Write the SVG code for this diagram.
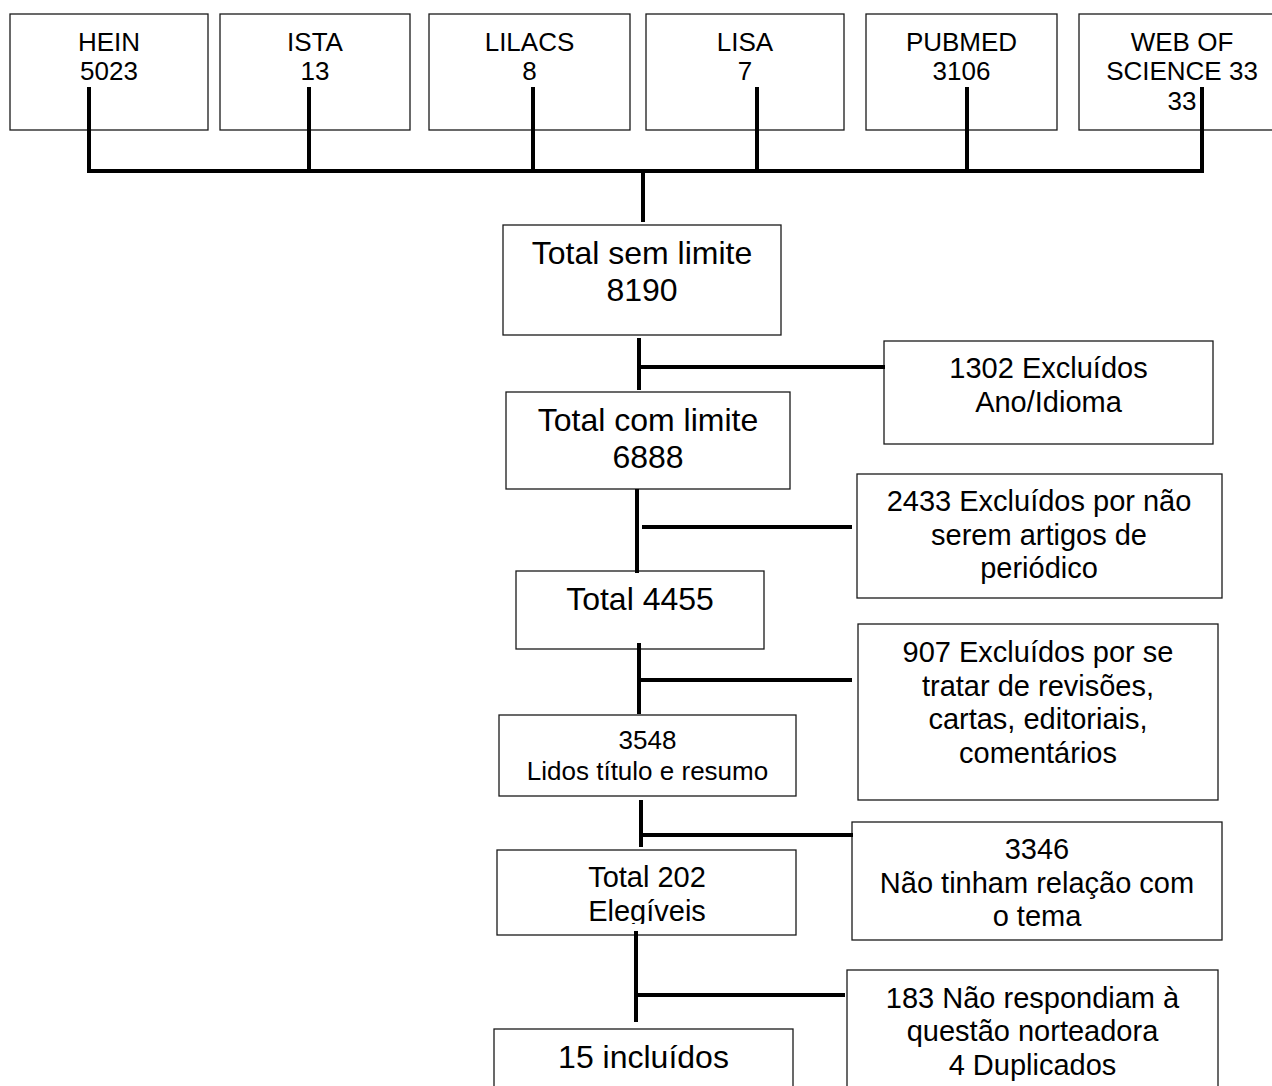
<svg xmlns="http://www.w3.org/2000/svg" width="1272" height="1086" viewBox="0 0 1272 1086">
<style>
.box{fill:#fff;stroke:#1a1a1a;stroke-width:1.3}
text{font-family:"Liberation Sans",Arial,sans-serif;fill:#000;text-anchor:middle}
.t26{font-size:26px}
.t29{font-size:29px}
.t31{font-size:32px}
.conn path{fill:none;stroke:#000;stroke-width:4;stroke-linejoin:miter}
</style>
<defs>
<clipPath id="clipEleg"><rect x="497" y="850" width="300" height="74"/></clipPath>
</defs>
<rect width="1272" height="1086" fill="#fff"/>

<g id="hein"><rect class="box" x="10" y="14" width="198" height="116"/><text class="t26" x="109" y="51">HEIN</text><text class="t26" x="109" y="80">5023</text></g>
<g id="ista"><rect class="box" x="220" y="14" width="190" height="116"/><text class="t26" x="315" y="51">ISTA</text><text class="t26" x="315" y="80">13</text></g>
<g id="lilacs"><rect class="box" x="429" y="14" width="201" height="116"/><text class="t26" x="529.5" y="51">LILACS</text><text class="t26" x="529.5" y="80">8</text></g>
<g id="lisa"><rect class="box" x="646" y="14" width="198" height="116"/><text class="t26" x="745" y="51">LISA</text><text class="t26" x="745" y="80">7</text></g>
<g id="pubmed"><rect class="box" x="866" y="14" width="191" height="116"/><text class="t26" x="961.5" y="51">PUBMED</text><text class="t26" x="961.5" y="80">3106</text></g>
<g id="wos"><rect class="box" x="1079" y="14" width="210" height="116"/><text class="t26" x="1182" y="51">WEB OF</text><text class="t26" x="1182" y="80">SCIENCE 33</text><text class="t26" x="1182" y="110">33</text></g>

<g id="total-sem"><rect class="box" x="503" y="225" width="278" height="110"/><text class="t31" x="642" y="264">Total sem limite</text><text class="t31" x="642" y="301">8190</text></g>
<g id="excl-1302"><rect class="box" x="884" y="341" width="329" height="103"/><text class="t29" x="1048.5" y="378">1302 Excluídos</text><text class="t29" x="1048.5" y="412">Ano/Idioma</text></g>
<g id="total-com"><rect class="box" x="506" y="392" width="284" height="97"/><text class="t31" x="648" y="431">Total com limite</text><text class="t31" x="648" y="468">6888</text></g>
<g id="excl-2433"><rect class="box" x="857" y="474" width="365" height="124"/><text class="t29" x="1039" y="511">2433 Excluídos por não</text><text class="t29" x="1039" y="545">serem artigos de</text><text class="t29" x="1039" y="578">periódico</text></g>
<g id="total-4455"><rect class="box" x="516" y="571" width="248" height="78"/><text class="t31" x="640" y="610">Total 4455</text></g>
<g id="excl-907"><rect class="box" x="858" y="624" width="360" height="176"/><text class="t29" x="1038" y="662">907 Excluídos por se</text><text class="t29" x="1038" y="696">tratar de revisões,</text><text class="t29" x="1038" y="729">cartas, editoriais,</text><text class="t29" x="1038" y="763">comentários</text></g>
<g id="lidos-3548"><rect class="box" x="499" y="715" width="297" height="81"/><text class="t26" x="647.5" y="749">3548</text><text class="t26" x="647.5" y="780">Lidos título e resumo</text></g>
<g id="excl-3346"><rect class="box" x="852" y="822" width="370" height="118"/><text class="t29" x="1037" y="859">3346</text><text class="t29" x="1037" y="893">Não tinham relação com</text><text class="t29" x="1037" y="926">o tema</text></g>
<g id="total-202"><rect class="box" x="497" y="850" width="299" height="85"/><g clip-path="url(#clipEleg)"><text class="t29" x="647" y="887">Total 202</text><text class="t29" x="647" y="921">Elegíveis</text></g></g>
<g id="excl-183"><rect class="box" x="847" y="970" width="371" height="130"/><text class="t29" x="1032.5" y="1008">183 Não respondiam à</text><text class="t29" x="1032.5" y="1041">questão norteadora</text><text class="t29" x="1032.5" y="1075">4 Duplicados</text></g>
<g id="incluidos-15"><rect class="box" x="494" y="1029" width="299" height="70"/><text class="t31" x="643.5" y="1068">15 incluídos</text></g>

<g id="connectors" class="conn">
<path d="M89,87V171H1202V87"/>
<path d="M309,87V171"/>
<path d="M533,87V171"/>
<path d="M757,87V171"/>
<path d="M967,87V171"/>
<path d="M643,171V222"/>
<path d="M639,338V390"/>
<path d="M639,367H885"/>
<path d="M637,489V573"/>
<path d="M642,527H852"/>
<path d="M639,643V714"/>
<path d="M639,680H852"/>
<path d="M641,800V847"/>
<path d="M641,835H853"/>
<path d="M636,931V1022"/>
<path d="M636,995H845"/>
</g>
</svg>
